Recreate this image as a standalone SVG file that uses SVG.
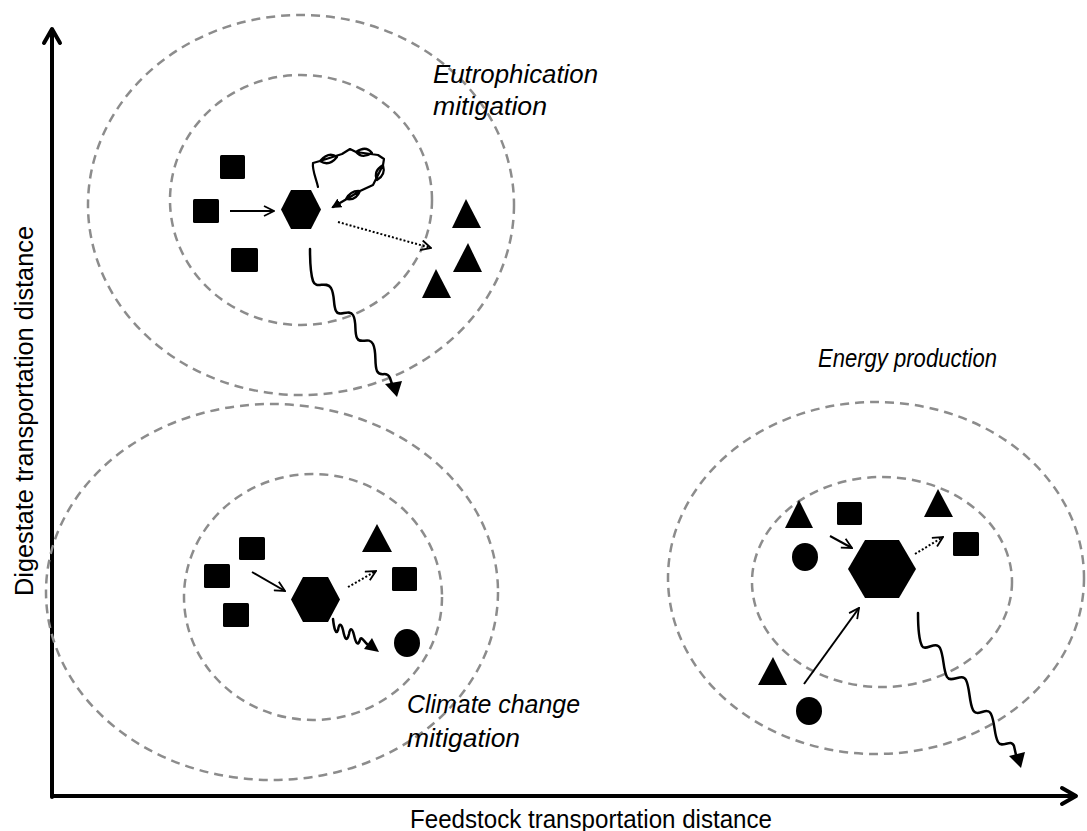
<svg xmlns="http://www.w3.org/2000/svg" width="1087" height="831" viewBox="0 0 1087 831">
<style>
.zone{fill:none;stroke:#8c8c8c;stroke-width:2.5;stroke-dasharray:9 6}
.shape{fill:#000}
.arr{fill:none;stroke:#000;stroke-width:2}
.dot{fill:none;stroke:#000;stroke-width:2;stroke-dasharray:2 2}
.wave{fill:none;stroke:#000;stroke-width:2.5;stroke-linecap:round;stroke-linejoin:round}
.scrib{fill:none;stroke:#000;stroke-width:2.2;stroke-linecap:round;stroke-linejoin:round}
.axis{fill:none;stroke:#000;stroke-width:4;stroke-linecap:round;stroke-linejoin:round}
.lbl{font-family:"Liberation Sans",Arial,sans-serif;font-size:25px;fill:#000}
.it{font-style:italic}
</style>
<defs>
<marker id="open" markerUnits="userSpaceOnUse" viewBox="0 0 12 12" refX="11" refY="6" markerWidth="12" markerHeight="12" orient="auto">
<path d="M1,1 L11,6 L1,11" fill="none" stroke="#000" stroke-width="1.8"/>
</marker>
<marker id="fill" markerUnits="userSpaceOnUse" viewBox="0 0 10 10" refX="8" refY="5" markerWidth="10" markerHeight="10" orient="auto">
<path d="M0,0 L10,5 L0,10 Z" fill="#000"/>
</marker>
</defs>

<g id="axes">
<line class="axis" x1="52" y1="30" x2="52" y2="797"/>
<polyline class="axis" points="44,43 52,29 60,43"/>
<line class="axis" x1="52" y1="796" x2="1075" y2="796"/>
<polyline class="axis" points="1062,788 1076,796 1062,804"/>
<text class="lbl" x="410" y="828" textLength="362" lengthAdjust="spacingAndGlyphs">Feedstock transportation distance</text>
<text class="lbl" transform="translate(33,411) rotate(-90)" text-anchor="middle" textLength="370" lengthAdjust="spacingAndGlyphs">Digestate transportation distance</text>
</g>

<g id="eutrophication">
<ellipse class="zone" cx="301" cy="205" rx="213" ry="190"/>
<ellipse class="zone" cx="301" cy="200" rx="131" ry="125"/>
<text class="lbl it" x="433" y="83" textLength="165" lengthAdjust="spacingAndGlyphs">Eutrophication</text>
<text class="lbl it" x="433" y="115" textLength="114" lengthAdjust="spacingAndGlyphs">mitigation</text>
<rect class="shape" x="220" y="155" width="25" height="24" rx="1.5"/>
<rect class="shape" x="193" y="199" width="26" height="24" rx="1.5"/>
<rect class="shape" x="231" y="248" width="27" height="24" rx="1.5"/>
<polygon class="shape" points="281,209.5 291,190 311,190 321,209.5 311,229 291,229"/>
<polygon class="shape" points="466,199 481,228 452,228"/>
<polygon class="shape" points="468,243 482,272 453,272"/>
<polygon class="shape" points="436,269 451,298 422,298"/>
</g>

<g id="climate">
<ellipse class="zone" cx="272" cy="592" rx="226" ry="188"/>
<ellipse class="zone" cx="313" cy="597" rx="129" ry="123"/>
<text class="lbl it" x="407" y="713" textLength="173" lengthAdjust="spacingAndGlyphs">Climate change</text>
<text class="lbl it" x="407" y="747" textLength="113" lengthAdjust="spacingAndGlyphs">mitigation</text>
<rect class="shape" x="239" y="537" width="26" height="23" rx="1.5"/>
<rect class="shape" x="204" y="564" width="26" height="24" rx="1.5"/>
<rect class="shape" x="223" y="603" width="26" height="24" rx="1.5"/>
<polygon class="shape" points="291,599.5 303,577 328,577 340,599.5 328,622 303,622"/>
<polygon class="shape" points="377,524 392,552 362,552"/>
<rect class="shape" x="392" y="567" width="25" height="24" rx="1.5"/>
<ellipse class="shape" cx="407" cy="643" rx="13" ry="14"/>
</g>

<g id="energy">
<ellipse class="zone" cx="876" cy="578" rx="208" ry="176"/>
<ellipse class="zone" cx="882" cy="582" rx="130" ry="105"/>
<text class="lbl it" x="818" y="367" textLength="179" lengthAdjust="spacingAndGlyphs">Energy production</text>
<polygon class="shape" points="799,500 813,528 785,528"/>
<rect class="shape" x="837" y="502" width="25" height="23" rx="1.5"/>
<polygon class="shape" points="938,489 953,517 924,517"/>
<ellipse class="shape" cx="805" cy="557" rx="13" ry="14"/>
<rect class="shape" x="953" y="532" width="26" height="24" rx="1.5"/>
<polygon class="shape" points="848,569 865,540 899,540 916,569 899,598 865,598"/>
<polygon class="shape" points="773,657 787,685 758,685"/>
<ellipse class="shape" cx="809" cy="711" rx="13" ry="14"/>
</g>

<g id="connectors">
<line class="arr" x1="230" y1="211" x2="274" y2="211" marker-end="url(#open)"/>
<line class="dot" x1="338" y1="222" x2="431" y2="248" marker-end="url(#open)"/>
<path class="scrib" d="M318,187 C316,178 312,170 313,163 L320,161 q9,-10 17,-4 q-8,10 -17,4 L342,154 L350,149 L356,152 q10,-7 16,1 q-10,6 -16,-1 L378,155 L384,159 L383,165 q3,10 -6,15 q-4,-9 6,-15 L373,185 L360,191 q-9,-1 -14,8 q10,2 14,-8 L345,200 L333,207" marker-end="url(#fill)"/>
<path class="wave" d="M310,249 C310,262 311,275 313,281 C316,290 326,280 331,288 C335,295 333,305 336,311 C339,318 349,308 353,315 C357,322 354,332 357,338 C360,345 369,336 373,344 C377,352 374,364 377,371 C380,378 387,370 390,378 L392,384"/>
<polygon class="shape" points="385,384 402,381 397,397"/>

<line class="arr" x1="252" y1="572" x2="285" y2="591" marker-end="url(#open)"/>
<line class="dot" x1="348" y1="587" x2="376" y2="571" marker-end="url(#open)"/>
<path class="wave" d="M333,619 C334,628 336,636 338,630 C339,624 341,622 343,630 C345,640 347,642 349,634 C350,628 352,627 354,635 C356,644 358,646 360,640 C361,636 363,640 367,644"/>
<polygon class="shape" points="364,649 372,638 379,652"/>

<line class="arr" x1="830" y1="536" x2="852" y2="548" marker-end="url(#open)"/>
<line class="dot" x1="915" y1="554" x2="943" y2="537" marker-end="url(#open)"/>
<line class="arr" x1="804" y1="684" x2="859" y2="608" marker-end="url(#open)"/>
<path class="wave" d="M918,613 C918,628 919,640 922,646 C925,652 936,640 940,648 C944,656 943,670 947,677 C951,684 962,672 966,680 C970,688 969,702 973,710 C977,718 987,706 991,714 C995,722 994,735 998,742 C1002,749 1011,738 1014,746 L1016,755"/>
<polygon class="shape" points="1009,756 1025,752 1021,768"/>
</g>
</svg>
